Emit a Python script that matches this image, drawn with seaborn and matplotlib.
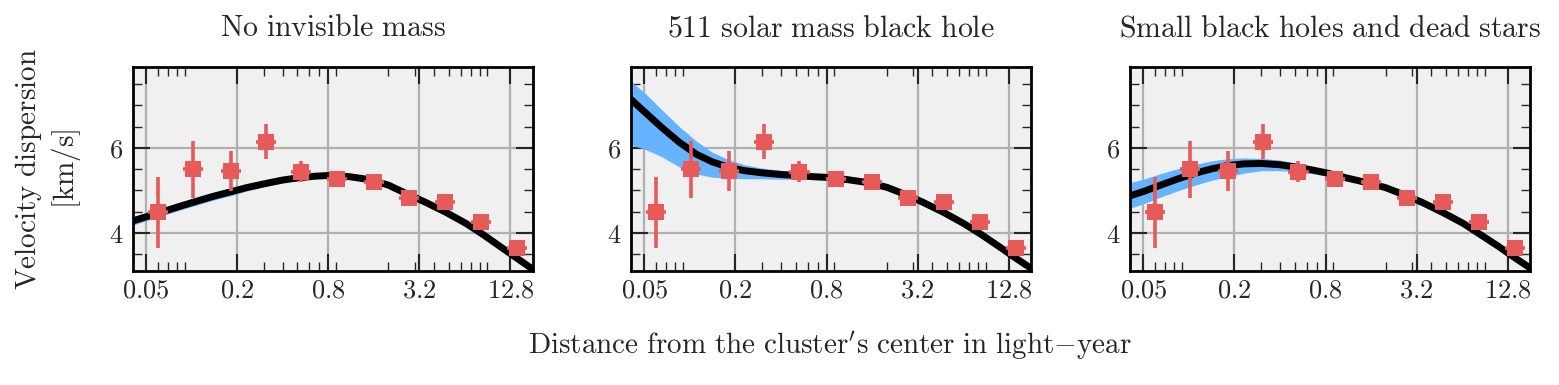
import numpy as np
import pandas as pd
import seaborn as sns
import matplotlib.pyplot as plt
from matplotlib.ticker import LogLocator, NullFormatter, MultipleLocator

# observed velocity dispersion (same points in all panels)
obs_x = [0.060, 0.102, 0.182, 0.31, 0.53, 0.92, 1.6, 2.75, 4.75, 8.23, 14.2]
obs_xerr_lo = [0.0085, 0.014, 0.026, 0.044, 0.075, 0.13, 0.23, 0.39, 0.67, 1.17, 2.0]
obs_xerr_hi = [0.0099, 0.017, 0.030, 0.051, 0.088, 0.15, 0.26, 0.45, 0.78, 1.36, 2.35]
obs_y = [4.48, 5.49, 5.46, 6.14, 5.44, 5.26, 5.20, 4.81, 4.72, 4.26, 3.63]
obs_yerr = [0.84, 0.67, 0.47, 0.41, 0.25, 0.08, 0.08, 0.08, 0.08, 0.08, 0.08]

# model curves, sampled along the distance axis
model_x = [0.041, 0.05, 0.065, 0.085, 0.11, 0.14, 0.18, 0.23, 0.3, 0.4, 0.5, 0.65,
           0.83, 1.1, 1.5, 2.0, 2.7, 3.5, 4.8, 6.5, 8.5, 11, 14, 18]

# no invisible mass
m1_mid = [4.28, 4.375, 4.50, 4.63, 4.75, 4.86, 4.96, 5.06, 5.15, 5.24, 5.29, 5.33,
          5.35, 5.32, 5.25, 5.12, 4.90, 4.72, 4.48, 4.22, 3.95, 3.67, 3.41, 3.14]
m1_lo = [4.18, 4.28, 4.41, 4.54, 4.66, 4.77, 4.87, 4.98, 5.08, 5.18, 5.24, 5.29,
         5.31, 5.29, 5.22, 5.09, 4.87, 4.69, 4.45, 4.19, 3.92, 3.64, 3.38, 3.11]
m1_hi = [4.38, 4.47, 4.59, 4.72, 4.84, 4.95, 5.05, 5.14, 5.22, 5.30, 5.34, 5.37,
         5.39, 5.35, 5.28, 5.15, 4.93, 4.75, 4.51, 4.25, 3.98, 3.70, 3.44, 3.17]

# 511 solar mass black hole
m2_mid = [7.13, 6.85, 6.48, 6.13, 5.85, 5.67, 5.54, 5.46, 5.41, 5.37, 5.35, 5.32,
          5.30, 5.25, 5.18, 5.07, 4.89, 4.71, 4.47, 4.21, 3.95, 3.68, 3.42, 3.16]
m2_lo = [6.06, 5.97, 5.79, 5.55, 5.38, 5.31, 5.28, 5.27, 5.27, 5.26, 5.26, 5.25,
         5.24, 5.20, 5.13, 5.02, 4.84, 4.66, 4.42, 4.16, 3.90, 3.63, 3.36, 3.10]
m2_hi = [7.55, 7.30, 6.90, 6.50, 6.16, 5.90, 5.72, 5.60, 5.52, 5.47, 5.43, 5.38,
         5.34, 5.29, 5.22, 5.11, 4.93, 4.75, 4.50, 4.24, 3.98, 3.71, 3.44, 3.18]

# small black holes and dead stars
m3_mid = [4.87, 4.97, 5.12, 5.27, 5.40, 5.50, 5.58, 5.62, 5.63, 5.60, 5.55, 5.48,
          5.40, 5.29, 5.18, 5.06, 4.88, 4.71, 4.47, 4.22, 3.95, 3.69, 3.43, 3.17]
m3_lo = [4.58, 4.68, 4.84, 4.99, 5.12, 5.23, 5.32, 5.40, 5.46, 5.46, 5.44, 5.39,
         5.33, 5.24, 5.14, 5.02, 4.84, 4.67, 4.43, 4.18, 3.90, 3.63, 3.36, 3.10]
m3_hi = [5.18, 5.26, 5.39, 5.51, 5.61, 5.69, 5.74, 5.76, 5.75, 5.71, 5.64, 5.55,
         5.45, 5.33, 5.21, 5.09, 4.91, 4.74, 4.50, 4.25, 3.98, 3.72, 3.45, 3.19]

titles = ['No invisible mass', '511 solar mass black hole', 'Small black holes and dead stars']
x_ticks = [0.05, 0.2, 0.8, 3.2, 12.8]
x_tick_labels = ['0.05', '0.2', '0.8', '3.2', '12.8']
y_ticks = [4, 6]
y_tick_labels = ['4', '6']

RED = '#e65a5a'
BLUE = '#66b3ff'

sns.set_style('ticks', {'axes.facecolor': '#f0f0f0', 'axes.edgecolor': 'black',
                        'grid.color': '#b0b0b0'})
plt.rcParams['mathtext.fontset'] = 'cm'
plt.rcParams['font.family'] = ['DejaVu Serif']


def mt(s):
    return r'$\mathrm{' + s.replace(' ', r'\ ') + '}$'


fig = plt.figure(figsize=(15.59, 3.85), dpi=100)
lefts = [133, 631.3, 1130.3]
curves = [(m1_mid, m1_lo, m1_hi), (m2_mid, m2_lo, m2_hi), (m3_mid, m3_lo, m3_hi)]
axes = []
for left, title, (mid, lo, hi) in zip(lefts, titles, curves):
    ax = fig.add_axes([left / 1559, (385 - 271) / 385, 399.5 / 1559, 204 / 385])
    axes.append(ax)
    ax.fill_between(model_x, lo, hi, color=BLUE, lw=0, zorder=2)
    df = pd.DataFrame({'x': model_x, 'y': mid})
    sns.lineplot(data=df, x='x', y='y', color='black', lw=5, ax=ax,
                 estimator=None, sort=False, zorder=3, solid_joinstyle='round')
    ax.errorbar(obs_x, obs_y, xerr=[obs_xerr_lo, obs_xerr_hi], yerr=obs_yerr,
                fmt='s', color=RED, ms=11.5, mew=0, elinewidth=2.6, capsize=0, zorder=4)

    ax.set_xscale('log')
    ax.set_xlim(0.041, 17.9)
    ax.set_ylim(3.1, 7.9)
    ax.set_xticks(x_ticks, labels=[f'${t}$' for t in x_tick_labels])
    ax.xaxis.set_minor_locator(LogLocator(base=10, subs=range(2, 10)))
    ax.xaxis.set_minor_formatter(NullFormatter())
    ax.set_yticks(y_ticks, labels=[f'${t}$' for t in y_tick_labels])
    ax.yaxis.set_minor_locator(MultipleLocator(0.5))
    ax.grid(True, which='major', color='#b0b0b0', lw=1.6)
    ax.set_axisbelow(True)
    ax.tick_params(which='both', direction='in', top=True, right=True, labelsize=19)
    ax.tick_params(which='major', length=12, width=1.5)
    ax.tick_params(which='minor', length=6.5, width=1.0)
    ax.tick_params(axis='x', pad=5)
    ax.tick_params(axis='y', pad=7)
    for sp in ax.spines.values():
        sp.set_linewidth(2.0)
        sp.set_visible(True)
    ax.set_xlabel('')
    ax.set_ylabel('')
    ax.set_title(mt(title), fontsize=21.5, pad=22)

fig.text(48 / 1559, 1 - 169 / 385, mt('Velocity dispersion') + '\n' + mt('[km/s]'),
         rotation=90, ha='center', va='center', multialignment='center', fontsize=21)
fig.text(829.5 / 1559, 1 - 355 / 385,
         r"$\mathrm{Distance\ from\ the\ cluster's\ center\ in\ light{-}year}$",
         ha='center', va='baseline', fontsize=21)

fig.savefig('out.png', dpi=100)
